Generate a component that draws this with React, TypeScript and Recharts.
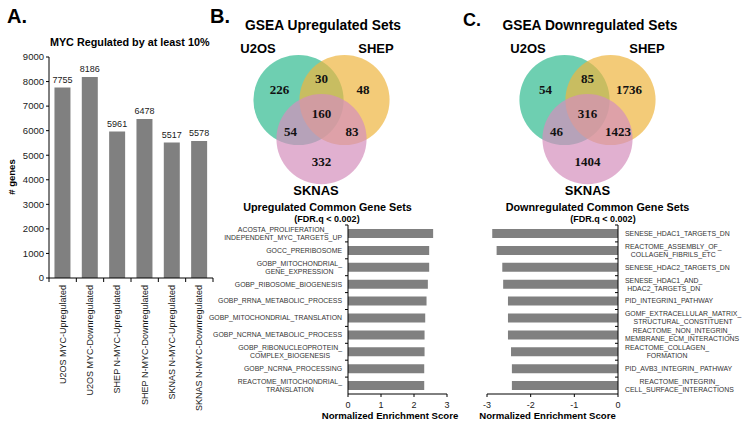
import { Bar, BarChart, LabelList, Scatter, ScatterChart, XAxis, YAxis } from "recharts";

const SANS = '"Liberation Sans", Arial, Helvetica, sans-serif';
const SERIF = '"Liberation Serif", "Times New Roman", serif';
const INK = "#1a1a1a";
const BAR_GREY = "#808080";

// ---- A. genes regulated by MYC / N-MYC ----
const mycGroups = [
  "U2OS MYC-Upregulated",
  "U2OS MYC-Downregulated",
  "SHEP N-MYC-Upregulated",
  "SHEP N-MYC-Downregulated",
  "SKNAS N-MYC-Upregulated",
  "SKNAS N-MYC-Downregulated",
];
const mycGenes = [7755, 8186, 5961, 6478, 5517, 5578];
const geneTicks = [0, 1000, 2000, 3000, 4000, 5000, 6000, 7000, 8000, 9000];

// ---- Venn diagrams (B, C) ----
const vennSets = ["U2OS", "SHEP", "SKNAS"];
const vennColors = ["#31ba90", "#eeb53e", "#d48ebc"];
const vennRegions = ["U2OS", "U2OS+SHEP", "SHEP", "all", "U2OS+SKNAS", "SHEP+SKNAS", "SKNAS"];
const upVennCounts = [226, 30, 48, 160, 54, 83, 332];
const downVennCounts = [54, 85, 1736, 316, 46, 1423, 1404];

// where circles / region numbers sit, in circle units (layout, not data)
const CIRCLE_CENTERS = [
  { x: -1, y: 0 },
  { x: 1, y: 0 },
  { x: 0, y: -1.7 },
];
const REGION_SPOTS = [
  { x: -1.83, y: 0.45 },
  { x: 0, y: 0.93 },
  { x: 1.8, y: 0.45 },
  { x: 0, y: -0.6 },
  { x: -1.35, y: -1.38 },
  { x: 1.33, y: -1.38 },
  { x: 0, y: -2.68 },
];
const UNIT_PX = 23;
const R_UNITS = 1.96;

// ---- common gene sets, NES ----
const upTerms = [
  "ACOSTA_PROLIFERATION_\nINDEPENDENT_MYC_TARGETS_UP",
  "GOCC_PRERIBOSOME",
  "GOBP_MITOCHONDRIAL_\nGENE_EXPRESSION",
  "GOBP_RIBOSOME_BIOGENESIS",
  "GOBP_RRNA_METABOLIC_PROCESS",
  "GOBP_MITOCHONDRIAL_TRANSLATION",
  "GOBP_NCRNA_METABOLIC_PROCESS",
  "GOBP_RIBONUCLEOPROTEIN_\nCOMPLEX_BIOGENESIS",
  "GOBP_NCRNA_PROCESSING",
  "REACTOME_MITOCHONDRIAL_\nTRANSLATION",
];
const upNES = [2.58, 2.46, 2.46, 2.42, 2.38, 2.34, 2.32, 2.32, 2.31, 2.31];

const downTerms = [
  "SENESE_HDAC1_TARGETS_DN",
  "REACTOME_ASSEMBLY_OF_\nCOLLAGEN_FIBRILS_ETC",
  "SENESE_HDAC2_TARGETS_DN",
  "SENESE_HDAC1_AND_\nHDAC2_TARGETS_DN",
  "PID_INTEGRIN1_PATHWAY",
  "GOMF_EXTRACELLULAR_MATRIX_\nSTRUCTURAL_CONSTITUENT",
  "REACTOME_NON_INTEGRIN_\nMEMBRANE_ECM_INTERACTIONS",
  "REACTOME_COLLAGEN_\nFORMATION",
  "PID_AVB3_INTEGRIN_ PATHWAY",
  "REACTOME_INTEGRIN_\nCELL_SURFACE_INTERACTIONS",
];
const downNES = [-2.88, -2.78, -2.65, -2.63, -2.52, -2.52, -2.52, -2.45, -2.43, -2.43];
const upNesTicks = [0, 1, 2, 3];
const downNesTicks = [-3, -2, -1, 0];

const mycRows = mycGroups.map((g, i) => ({ group: g, genes: mycGenes[i] }));
const upRows = upTerms.map((t, i) => ({ term: t, nes: upNES[i] }));
const downRows = downTerms.map((t, i) => ({ term: t, nes: downNES[i] }));

const A_PLOT_W = 164;
const A_BAND = A_PLOT_W / mycGroups.length;
const NES_BAND = 169 / upTerms.length;
const TERM_FONT = 6.9;
const TERM_LINE = 8;

let measureCtx: CanvasRenderingContext2D | null = null;
function textWidth(s: string): number {
  if (!measureCtx) measureCtx = document.createElement("canvas").getContext("2d");
  if (!measureCtx) return s.length * 4.5;
  measureCtx.font = `${TERM_FONT}px "Liberation Sans"`;
  return measureCtx.measureText(s).width;
}

function GroupTick(props: any) {
  const { x, y, payload, index } = props;
  const axisY = y - 7;
  return (
    <g>
      <line x1={x + A_BAND / 2} x2={x + A_BAND / 2} y1={axisY} y2={axisY + 4} stroke="#000" />
      {index === 0 && <line x1={x - A_BAND / 2} x2={x - A_BAND / 2} y1={axisY} y2={axisY + 4} stroke="#000" />}
      <text
        x={x}
        y={y}
        dy="0.35em"
        transform={`rotate(-90 ${x} ${y})`}
        textAnchor="end"
        fontSize={9}
        fontFamily={SANS}
        fill={INK}
      >
        {payload.value}
      </text>
    </g>
  );
}

function TermTick(props: any) {
  const { x, y, payload, side, gap } = props;
  const lines = String(payload.value).split("\n");
  const w = Math.max(...lines.map(textWidth));
  const cx = side === "left" ? x - w / 2 : x + w / 2;
  const axisX = side === "left" ? x + gap : x - gap;
  const y0 = y - ((lines.length - 1) * TERM_LINE) / 2;
  return (
    <g>
      <line x1={axisX} x2={axisX - 3} y1={y - NES_BAND / 2} y2={y - NES_BAND / 2} stroke="#000" />
      <text textAnchor="middle" fontSize={TERM_FONT} fontFamily={SANS} fill="#333">
        {lines.map((l, i) => (
          <tspan key={i} x={cx} y={y0 + i * TERM_LINE} dy="0.35em">
            {l}
          </tspan>
        ))}
      </text>
    </g>
  );
}

function Venn({ counts, left }: { counts: number[]; left: number }) {
  const circles = vennSets.map((s, i) => ({ ...CIRCLE_CENTERS[i], set: s }));
  const spots = vennRegions.map((r, i) => ({ ...REGION_SPOTS[i], region: r, count: counts[i] }));
  return (
    <div style={{ position: "absolute", left, top: 31 }}>
      <ScatterChart width={7 * UNIT_PX} height={7 * UNIT_PX} margin={{ top: 0, right: 0, bottom: 0, left: 0 }}>
        <XAxis type="number" dataKey="x" domain={[-3.5, 3.5]} hide height={0} />
        <YAxis type="number" dataKey="y" domain={[-4, 3]} hide width={0} />
        {circles.map((c, i) => (
          <Scatter
            key={c.set}
            data={[c]}
            isAnimationActive={false}
            shape={(p: any) => (
              <circle cx={p.cx} cy={p.cy} r={R_UNITS * UNIT_PX} fill={vennColors[i]} fillOpacity={0.7} />
            )}
          />
        ))}
        <Scatter
          data={spots}
          isAnimationActive={false}
          shape={(p: any) => (
            <text
              x={p.cx}
              y={p.cy}
              dy="0.35em"
              textAnchor="middle"
              fontFamily={SERIF}
              fontWeight="bold"
              fontSize={13}
              fill="#111"
            >
              {p.payload.count}
            </text>
          )}
        />
      </ScatterChart>
    </div>
  );
}

const tickStyle = { fontSize: 9, fontFamily: SANS, fill: INK };

export default function App() {
  return (
    <div style={{ position: "absolute", left: 0, top: 0, width: 750, height: 428, background: "#fff", fontFamily: SANS }}>
      {/* A */}
      <div style={{ position: "absolute", left: 0, top: 0 }}>
        <BarChart
          width={220}
          height={428}
          data={mycRows}
          margin={{ top: 57, right: 220 - 49 - A_PLOT_W, bottom: 0, left: 0 }}
          barCategoryGap="20%"
        >
          <XAxis
            dataKey="group"
            type="category"
            height={150}
            interval={0}
            tickLine={false}
            tickSize={0}
            tickMargin={7}
            stroke="#000"
            tick={<GroupTick />}
          />
          <YAxis
            type="number"
            domain={[0, 9000]}
            ticks={geneTicks}
            width={49}
            tickSize={3}
            tickMargin={2}
            stroke="#000"
            tick={{ ...tickStyle, fontSize: 9.5 }}
            interval={0}
          />
          <Bar dataKey="genes" fill={BAR_GREY} isAnimationActive={false}>
            <LabelList dataKey="genes" position="top" offset={5} fontSize={9} fontFamily={SANS} fill={INK} />
          </Bar>
        </BarChart>
      </div>

      <Venn counts={upVennCounts} left={321 - 3.5 * UNIT_PX} />
      <Venn counts={downVennCounts} left={587 - 3.5 * UNIT_PX} />

      {/* B lower: upregulated common sets */}
      <div style={{ position: "absolute", left: 200, top: 190 }}>
        <BarChart
          width={260}
          height={238}
          data={upRows}
          layout="vertical"
          margin={{ top: 35, right: 13, bottom: 0, left: 0 }}
        >
          <XAxis
            type="number"
            domain={[0, 3]}
            ticks={upNesTicks}
            height={34}
            tickSize={3}
            tickMargin={5}
            stroke="#000"
            tick={tickStyle}
            interval={0}
          />
          <YAxis
            type="category"
            dataKey="term"
            width={148}
            interval={0}
            tickLine={false}
            tickSize={0}
            tickMargin={6}
            stroke="#000"
            tick={<TermTick side="left" gap={6} />}
          />
          <Bar dataKey="nes" fill={BAR_GREY} barSize={9} isAnimationActive={false} />
        </BarChart>
      </div>

      {/* C lower: downregulated common sets */}
      <div style={{ position: "absolute", left: 470, top: 190 }}>
        <BarChart
          width={280}
          height={238}
          data={downRows}
          layout="vertical"
          margin={{ top: 35, right: 0, bottom: 0, left: 17 }}
        >
          <XAxis
            type="number"
            domain={[-3, 0]}
            ticks={downNesTicks}
            height={34}
            tickSize={3}
            tickMargin={5}
            stroke="#000"
            tick={tickStyle}
            interval={0}
          />
          <YAxis
            type="category"
            dataKey="term"
            orientation="right"
            width={132}
            interval={0}
            tickLine={false}
            tickSize={0}
            tickMargin={7}
            stroke="#000"
            tick={<TermTick side="right" gap={7} />}
          />
          <Bar dataKey="nes" fill={BAR_GREY} barSize={9} isAnimationActive={false} />
        </BarChart>
      </div>

      {/* titles and panel letters */}
      <svg width={750} height={428} style={{ position: "absolute", left: 0, top: 0, pointerEvents: "none" }} fontFamily={SANS}>
        <g fontWeight="bold" fill="#000">
          <text x={7} y={22.5} fontSize={20}>A.</text>
          <text x={210} y={22.5} fontSize={20}>B.</text>
          <text x={463} y={25.5} fontSize={18}>C.</text>
        </g>
        <text x={129.7} y={45.6} textAnchor="middle" fontWeight="bold" fontSize={10.8} fill="#000">
          MYC Regulated by at least 10%
        </text>
        <text x={12} y={177} transform="rotate(-90 12 177)" textAnchor="middle" dy="0.35em" fontWeight="bold" fontSize={9.5}>
          # genes
        </text>

        <g fontWeight="bold" fill="#000">
          <text x={323} y={30} textAnchor="middle" fontSize={13.8}>GSEA Upregulated Sets</text>
          <text x={590} y={30} textAnchor="middle" fontSize={13.8}>GSEA Downregulated Sets</text>
          <text x={258} y={52.5} textAnchor="middle" fontSize={13}>U2OS</text>
          <text x={376} y={52.5} textAnchor="middle" fontSize={13}>SHEP</text>
          <text x={316} y={194.5} textAnchor="middle" fontSize={13}>SKNAS</text>
          <text x={528} y={52.5} textAnchor="middle" fontSize={13}>U2OS</text>
          <text x={647} y={52.5} textAnchor="middle" fontSize={13}>SHEP</text>
          <text x={587.5} y={194.5} textAnchor="middle" fontSize={13}>SKNAS</text>

          <text x={327.5} y={210.8} textAnchor="middle" fontSize={10.8}>Upregulated Common Gene Sets</text>
          <text x={327} y={222.3} textAnchor="middle" fontSize={9}>(FDR.q &lt; 0.002)</text>
          <text x={597.5} y={210.8} textAnchor="middle" fontSize={10.8}>Downregulated Common Gene Sets</text>
          <text x={603} y={222.3} textAnchor="middle" fontSize={9}>(FDR.q &lt; 0.002)</text>

          <text x={390} y={419} textAnchor="middle" fontSize={9.6}>Normalized Enrichment Score</text>
          <text x={547.5} y={419} textAnchor="middle" fontSize={9.6}>Normalized Enrichment Score</text>
        </g>
      </svg>
    </div>
  );
}
